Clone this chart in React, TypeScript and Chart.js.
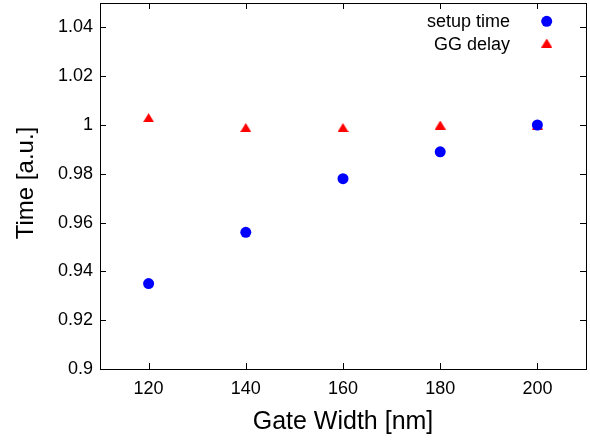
import React, { useEffect, useRef } from "react";
import { Chart, registerables } from "chart.js";

Chart.register(...registerables);

const GATE_WIDTH = [120, 140, 160, 180, 200];
const SETUP_TIME = [0.935, 0.956, 0.978, 0.989, 1.0];
const GG_DELAY = [1.003, 0.999, 0.999, 1.0, 1.0];
const X_TICKS = [120, 140, 160, 180, 200];
const Y_TICKS = [0.9, 0.92, 0.94, 0.96, 0.98, 1, 1.02, 1.04];
const SERIES_LABELS = ["setup time", "GG delay"];
const X_TITLE = "Gate Width [nm]";
const Y_TITLE = "Time [a.u.]";

const FONT = "'Liberation Sans', Arial, sans-serif";
const BLUE = "#0000ff";
const RED = "#ff0000";

function makeTriangle(color: string): HTMLCanvasElement {
  const c = document.createElement("canvas");
  const w = 11;
  const h = 9;
  c.width = w;
  c.height = h;
  const g = c.getContext("2d")!;
  g.fillStyle = color;
  g.beginPath();
  g.moveTo(w / 2, 0);
  g.lineTo(w, h);
  g.lineTo(0, h);
  g.closePath();
  g.fill();
  return c;
}

export default function App() {
  const ref = useRef<HTMLCanvasElement | null>(null);

  useEffect(() => {
    document.body.style.margin = "0";
    const canvas = ref.current!;
    const tri = makeTriangle(RED);

    const framePlugin = {
      id: "gnuplotFrame",
      afterDraw(chart: any) {
        const ctx = chart.ctx as CanvasRenderingContext2D;
        const { left, right, top, bottom } = chart.chartArea;
        const xs = chart.scales.x;
        const ys = chart.scales.y;
        const tl = 6;
        ctx.save();
        ctx.strokeStyle = "#000";
        ctx.lineWidth = 1;
        ctx.beginPath();
        X_TICKS.forEach((v) => {
          const px = Math.round(xs.getPixelForValue(v)) + 0.5;
          ctx.moveTo(px, bottom);
          ctx.lineTo(px, bottom - tl);
          ctx.moveTo(px, top);
          ctx.lineTo(px, top + tl);
        });
        Y_TICKS.forEach((v) => {
          const py = Math.round(ys.getPixelForValue(v)) + 0.5;
          ctx.moveTo(left, py);
          ctx.lineTo(left + tl, py);
          ctx.moveTo(right, py);
          ctx.lineTo(right - tl, py);
        });
        ctx.stroke();
        ctx.strokeRect(Math.round(left) + 0.5, Math.round(top) + 0.5, Math.round(right - left), Math.round(bottom - top));

        // legend
        ctx.fillStyle = "#000";
        ctx.font = `18px ${FONT}`;
        ctx.textAlign = "right";
        ctx.textBaseline = "alphabetic";
        ctx.fillText(SERIES_LABELS[0], 510, 27);
        ctx.fillText(SERIES_LABELS[1], 510, 49.5);
        ctx.fillStyle = BLUE;
        ctx.beginPath();
        ctx.arc(546.7, 21.3, 5.5, 0, Math.PI * 2);
        ctx.fill();
        ctx.drawImage(tri, 546.7 - 5.5, 43 - 4.5);

        // axis titles
        ctx.fillStyle = "#000";
        ctx.textAlign = "center";
        ctx.textBaseline = "alphabetic";
        ctx.font = `25px ${FONT}`;
        ctx.fillText(X_TITLE, (left + right) / 2, 428.5);
        ctx.font = `24px ${FONT}`;
        ctx.translate(33, (top + bottom) / 2 - 3);
        ctx.rotate(-Math.PI / 2);
        ctx.fillText(Y_TITLE, 0, 0);
        ctx.restore();
      },
    };

    const chart = new Chart(canvas, {
      type: "scatter",
      data: {
        datasets: [
          {
            label: SERIES_LABELS[0],
            data: GATE_WIDTH.map((x, i) => ({ x, y: SETUP_TIME[i] })),
            pointStyle: "circle",
            pointRadius: 5.5,
            pointBorderWidth: 0,
            backgroundColor: BLUE,
            borderColor: BLUE,
          },
          {
            label: SERIES_LABELS[1],
            data: GATE_WIDTH.map((x, i) => ({ x, y: GG_DELAY[i] })),
            pointStyle: tri as any,
            pointRadius: 6,
            backgroundColor: RED,
            borderColor: RED,
          },
        ],
      },
      options: {
        animation: false,
        responsive: false,
        maintainAspectRatio: false,
        layout: { autoPadding: false, padding: { top: 3, right: 4, left: 0, bottom: 0 } },
        plugins: {
          legend: { display: false },
          tooltip: { enabled: false },
        },
        scales: {
          x: {
            type: "linear",
            min: 110,
            max: 210,
            grid: { display: false, drawTicks: false },
            border: { display: false },
            afterBuildTicks: (s: any) => {
              s.ticks = X_TICKS.map((v) => ({ value: v }));
            },
            afterFit: (s: any) => {
              s.height = 74;
              s.paddingLeft = 0;
              s.paddingRight = 0;
            },
            ticks: {
              color: "#000",
              padding: 9,
              maxRotation: 0,
              font: { family: FONT, size: 18 },
              callback: (v: any) => String(v),
            },
          },
          y: {
            type: "linear",
            min: 0.9,
            max: 1.05,
            grid: { display: false, drawTicks: false },
            border: { display: false },
            afterBuildTicks: (s: any) => {
              s.ticks = Y_TICKS.map((v) => ({ value: v }));
            },
            afterFit: (s: any) => {
              s.width = 100;
              s.paddingTop = 0;
              s.paddingBottom = 0;
            },
            ticks: {
              color: "#000",
              padding: 7,
              font: { family: FONT, size: 18 },
              callback: (v: any) => String(Number(Number(v).toFixed(2))),
            },
          },
        },
      },
      plugins: [framePlugin],
    });
    return () => chart.destroy();
  }, []);

  return <canvas ref={ref} width={590} height={443} style={{ display: "block" }} />;
}
